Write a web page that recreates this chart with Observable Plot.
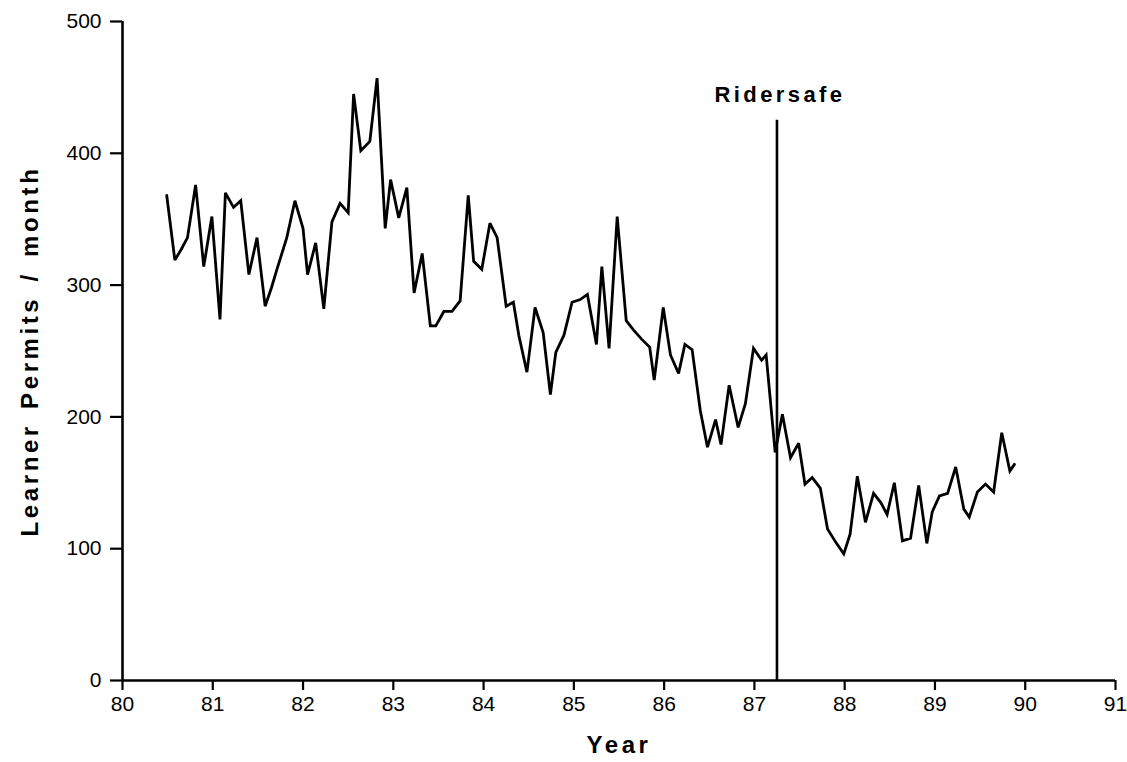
<!DOCTYPE html>
<html>
<head>
<meta charset="utf-8">
<script src="https://cdn.jsdelivr.net/npm/d3@7"></script>
<script src="https://cdn.jsdelivr.net/npm/@observablehq/plot@0.6"></script>
<style>
  html, body { margin: 0; padding: 0; background: #fff; }
</style>
</head>
<body>
<div id="chart"></div>
<script>
// Decimal year of each monthly observation
const years = [
  80.49, 80.58, 80.65, 80.72, 80.81, 80.90, 80.99, 81.08, 81.14, 81.23,
  81.31, 81.40, 81.49, 81.58, 81.65, 81.72, 81.82, 81.91, 82.00, 82.05,
  82.14, 82.23, 82.32, 82.41, 82.50, 82.56, 82.64, 82.74, 82.82, 82.91,
  82.97, 83.06, 83.15, 83.23, 83.32, 83.41, 83.47, 83.56, 83.65, 83.74,
  83.83, 83.89, 83.98, 84.07, 84.15, 84.25, 84.33, 84.39, 84.48, 84.57,
  84.66, 84.74, 84.80, 84.89, 84.98, 85.07, 85.15, 85.25, 85.31, 85.39,
  85.48, 85.58, 85.66, 85.75, 85.84, 85.89, 85.99, 86.07, 86.16, 86.23,
  86.31, 86.40, 86.48, 86.57, 86.63, 86.72, 86.82, 86.90, 86.99, 87.08,
  87.13, 87.23, 87.31, 87.40, 87.49, 87.56, 87.64, 87.73, 87.81, 87.90,
  87.99, 88.06, 88.14, 88.23, 88.32, 88.40, 88.47, 88.55, 88.64, 88.73,
  88.82, 88.91, 88.97, 89.05, 89.14, 89.23, 89.32, 89.38, 89.47, 89.56,
  89.65, 89.74, 89.83, 89.88
];
// Learner permits issued per month
const permits = [
  368, 319, 327, 336, 376, 314, 352, 274, 370, 359,
  364, 308, 336, 284, 298, 314, 336, 364, 343, 308,
  332, 282, 348, 362, 355, 445, 402, 409, 457, 343,
  380, 351, 374, 294, 324, 269, 269, 280, 280, 288,
  368, 318, 312, 347, 336, 284, 287, 262, 234, 283,
  264, 217, 249, 262, 287, 289, 293, 255, 314, 252,
  352, 273, 266, 259, 253, 228, 283, 247, 233, 255,
  251, 205, 177, 198, 179, 224, 192, 210, 252, 243,
  247, 173, 202, 169, 180, 149, 154, 146, 115, 105,
  96, 111, 155, 120, 142, 135, 126, 150, 106, 108,
  148, 104, 128, 140, 142, 162, 130, 124, 143, 149,
  143, 188, 159, 164
];
const xTicks = [80, 81, 82, 83, 84, 85, 86, 87, 88, 89, 90, 91];
const yTicks = [0, 100, 200, 300, 400, 500];
const eventYears = [87.25];
const eventTops = [425];
const eventLabels = ["Ridersafe"];
const xLabel = "Year";
const yLabel = "Learner Permits / month";

const data = years.map((y, i) => ({year: y, permits: permits[i]}));
const events = eventYears.map((y, i) => ({year: y, top: eventTops[i], label: eventLabels[i]}));

const font = "'Liberation Sans', Arial, Helvetica, sans-serif";

const chart = Plot.plot({
  width: 1127,
  height: 762,
  marginLeft: 122,
  marginRight: 12,
  marginTop: 21,
  marginBottom: 82,
  style: {fontFamily: font, fontSize: "21px", color: "#000", background: "#fff", overflow: "visible"},
  x: {domain: [80, 91], label: null},
  y: {domain: [0, 500], label: null},
  marks: [
    Plot.axisX({ticks: xTicks, tickSize: 10, tickPadding: 6, strokeWidth: 2.2, label: null, tickFormat: d => String(d)}),
    Plot.axisY({ticks: yTicks, tickSize: 12, tickPadding: 9, strokeWidth: 2.2, label: null}),
    Plot.ruleY([0], {stroke: "#000", strokeWidth: 2.6}),
    Plot.ruleX([80], {stroke: "#000", strokeWidth: 2.6}),
    Plot.line(data, {x: "year", y: "permits", stroke: "#000", strokeWidth: 2.8, strokeLinejoin: "miter", strokeMiterlimit: 3}),
    Plot.ruleX(events, {x: "year", y1: 0, y2: "top", stroke: "#000", strokeWidth: 2.6}),
    Plot.text(events, {x: "year", y: "top", text: "label", dy: -25, dx: 3, fontWeight: "bold", fontSize: 22, fill: "#000", textAnchor: "middle"}),
    Plot.text([xLabel], {frameAnchor: "bottom", dy: 65, textAnchor: "middle", lineAnchor: "middle", fontWeight: "bold", fontSize: 24, fill: "#000"}),
    Plot.text([yLabel], {frameAnchor: "left", dx: -92, rotate: -90, textAnchor: "middle", lineAnchor: "middle", fontWeight: "bold", fontSize: 24, fill: "#000"})
  ]
});
d3.select(chart).selectAll('g[aria-label="text"] text').each(function () {
  const t = this.textContent;
  if (t === yLabel) { this.style.letterSpacing = "3.6px"; this.style.wordSpacing = "4px"; }
  else if (t === xLabel) { this.style.letterSpacing = "3.6px"; }
  else { this.style.letterSpacing = "3.4px"; }
});
document.getElementById("chart").appendChild(chart);
</script>
</body>
</html>
